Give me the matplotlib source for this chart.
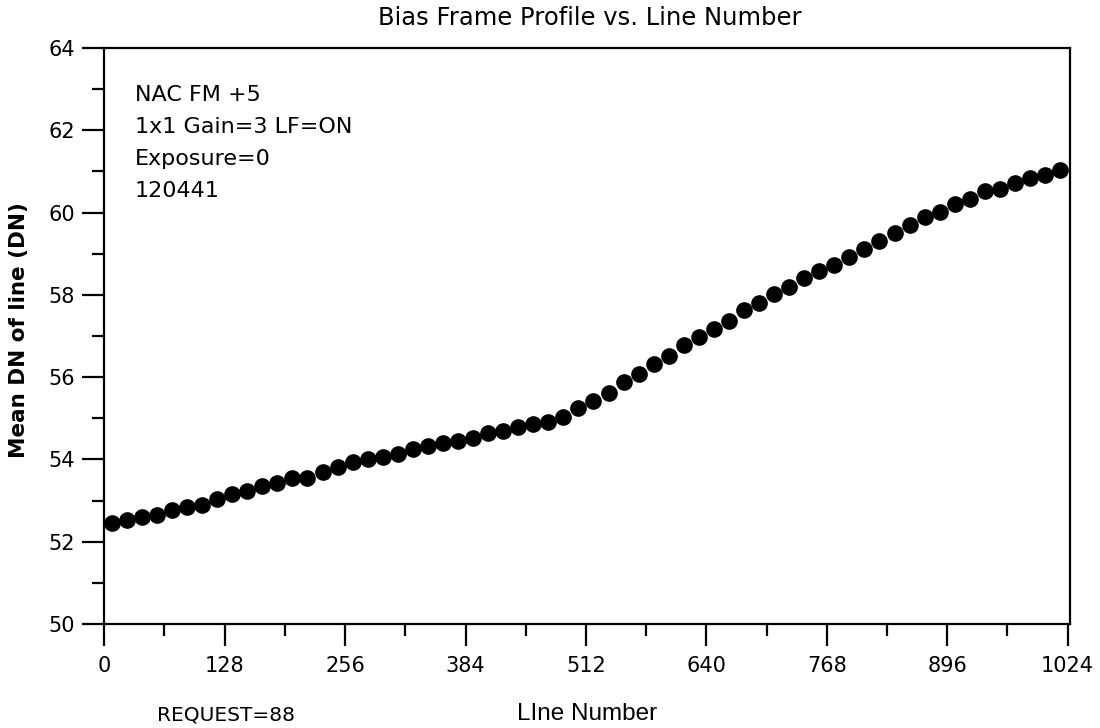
import matplotlib
matplotlib.use('Agg')
import matplotlib.pyplot as plt
from matplotlib.ticker import MultipleLocator

# mean DN per 16-line block
line_number = [8 + 16 * k for k in range(64)]
mean_dn = [52.46, 52.52, 52.59, 52.65, 52.77, 52.85, 52.90, 53.03,
           53.16, 53.23, 53.35, 53.43, 53.55, 53.55, 53.69, 53.81,
           53.94, 54.01, 54.06, 54.14, 54.26, 54.33, 54.40, 54.45,
           54.52, 54.65, 54.70, 54.78, 54.85, 54.92, 55.04, 55.24,
           55.43, 55.62, 55.88, 56.07, 56.33, 56.52, 56.78, 56.98,
           57.17, 57.36, 57.62, 57.81, 58.01, 58.20, 58.40, 58.59,
           58.72, 58.93, 59.11, 59.31, 59.50, 59.69, 59.88, 60.02,
           60.21, 60.33, 60.52, 60.58, 60.72, 60.85, 60.91, 61.04]

info_lines = ["NAC FM +5", "1x1 Gain=3 LF=ON", "Exposure=0", "120441"]

fig = plt.figure(figsize=(11, 7.28), dpi=100)
ax = fig.add_axes([0.0948, 0.1429, 0.8779, 0.7912])

ax.plot(line_number, mean_dn, 'o', color='black', markersize=12, markeredgewidth=0)

ax.set_xlim(0, 1026.5)
ax.set_ylim(50, 64)
ax.xaxis.set_major_locator(MultipleLocator(128))
ax.xaxis.set_minor_locator(MultipleLocator(64))
ax.yaxis.set_major_locator(MultipleLocator(2))
ax.yaxis.set_minor_locator(MultipleLocator(1))

for s in ax.spines.values():
    s.set_linewidth(1.6)
ax.tick_params(which='major', direction='out', length=16, width=1.6, labelsize=15)
ax.tick_params(which='minor', direction='out', length=8.5, width=1.6)
ax.tick_params(axis='x', which='major', pad=7)
ax.tick_params(axis='y', which='major', pad=5)

# info block in upper left
for i, txt in enumerate(info_lines):
    ax.text(135 / 1100, 1 - (95 + 32 * i) / 728, txt, transform=fig.transFigure,
            fontsize=16, ha='left', va='center')

fig.text(590 / 1100, 1 - 18 / 728, "Bias Frame Profile vs. Line Number",
         fontsize=17.5, ha='center', va='center')
fig.text(19 / 1100, 1 - 330 / 728, "Mean DN of line (DN)", rotation=90,
         fontsize=15.5, fontweight='semibold', ha='center', va='center')
fig.text(587 / 1100, 1 - 714 / 728, "LIne Number", fontsize=17.5,
         family='Liberation Sans', ha='center', va='center')
fig.text(226 / 1100, 1 - 715 / 728, "REQUEST=88", fontsize=14.5, ha='center', va='center')

fig.savefig('out.png', dpi=100)
